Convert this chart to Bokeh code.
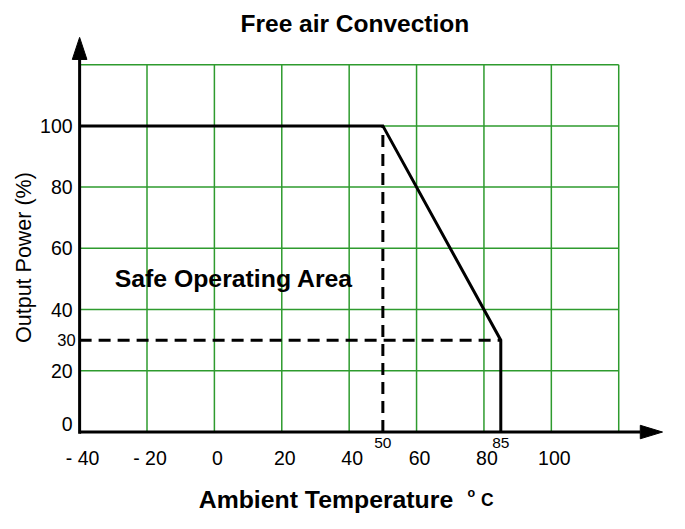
import math
from bokeh.plotting import figure
from bokeh.models import Range1d, ColumnDataSource
from bokeh.core.properties import value
from bokeh.embed import file_html
from bokeh.resources import INLINE

# ---------------- data ----------------
curve_temp = [-40, 50, 85, 85]
curve_power = [100, 100, 30, 0]
derate_start_temp = 50
derate_end_temp = 85
derate_end_power = 30

x_ticks = [-40, -20, 0, 20, 40, 60, 80, 100]
x_tick_labels = ["- 40", "- 20", "0", "20", "40", "60", "80", "100"]
y_ticks = [0, 20, 40, 60, 80, 100]
y_tick_labels = ["0", "20", "40", "60", "80", "100"]
grid_x = [-20, 0, 20, 40, 60, 80, 100, 120]
grid_y = [20, 40, 60, 80, 100, 120]
x_min, x_max = -40, 120
y_min, y_max = 0, 120

# axis extents (arrow tips / bases)
x_arrow_base, x_arrow_tip = 126.4, 133.0
y_arrow_base, y_arrow_tip = 121.7, 128.9

FONT = value("Liberation Sans")
GREEN = "#2e9b2e"

p = figure(width=669, height=513, output_backend="svg", toolbar_location=None,
           x_range=Range1d(-63.48, 135.07), y_range=Range1d(-26.61, 140.96),
           x_axis_location=None, y_axis_location=None, min_border=0)
p.grid.visible = False
p.outline_line_color = None
p.background_fill_color = "white"
p.border_fill_color = "white"

# grid
p.segment(x0=grid_x, y0=[y_min] * len(grid_x), x1=grid_x, y1=[y_max] * len(grid_x),
          line_color=GREEN, line_width=1.5)
p.segment(x0=[x_min] * len(grid_y), y0=grid_y, x1=[x_max] * len(grid_y), y1=grid_y,
          line_color=GREEN, line_width=1.5)

# dashed guides
p.line([derate_start_temp, derate_start_temp], [0, curve_power[0]], line_color="black",
       line_width=3, line_dash="12 7")
p.line([x_min, derate_end_temp], [derate_end_power, derate_end_power], line_color="black",
       line_width=3, line_dash="12 7")

# curve
p.line(curve_temp, curve_power, line_color="black", line_width=3, line_join="miter")

# axes
p.line([x_min, x_min], [y_min - 0.6, y_arrow_base], line_color="black", line_width=3)
p.line([x_min, x_arrow_base], [y_min, y_min], line_color="black", line_width=3)
hw_x = 2.17  # half width of y arrow head in x units
hw_y = 2.2   # half height of x arrow head in y units
p.patch([x_min - hw_x, x_min + hw_x, x_min], [y_arrow_base, y_arrow_base, y_arrow_tip],
        color="black")
p.patch([x_arrow_base, x_arrow_base, x_arrow_tip], [-hw_y, hw_y, 0], color="black")

# x tick labels
p.text(x=x_ticks, y=[0] * len(x_ticks), text=x_tick_labels, x_offset=3, y_offset=26,
       text_align="center", text_baseline="middle", text_font=FONT,
       text_font_size="19.5px", text_color="black")
# y tick labels
y_offs = [-8 if t == 0 else 0 for t in y_ticks]
src = ColumnDataSource(dict(x=[x_min] * len(y_ticks), y=y_ticks, t=y_tick_labels, yo=y_offs))
p.text(x="x", y="y", text="t", y_offset="yo", x_offset=-7, source=src,
       text_align="right", text_baseline="middle", text_font=FONT,
       text_font_size="19.5px", text_color="black")
p.text(x=[x_min], y=[derate_end_power], text=[str(derate_end_power)], x_offset=-4,
       text_align="right", text_baseline="middle", text_font=FONT,
       text_font_size="16.5px", text_color="black")
# special labels 50 / 85
p.text(x=[derate_start_temp, derate_end_temp], y=[0, 0],
       text=[str(derate_start_temp), str(derate_end_temp)], y_offset=11,
       text_align="center", text_baseline="middle", text_font=FONT,
       text_font_size="15.5px", text_color="black")

# titles
p.text(x=[41.7], y=[133.5], text=["Free air Convection"], text_align="center",
       text_baseline="middle", text_font=FONT, text_font_size="24.5px",
       text_font_style="bold", text_color="black")
p.text(x=[-56.6], y=[57.0], text=["Output Power (%)"], angle=math.pi / 2,
       text_align="center", text_baseline="middle", text_font=FONT,
       text_font_size="21.5px", text_color="black")
p.text(x=[-29.6], y=[50], text=["Safe Operating Area"], text_align="left",
       text_baseline="middle", text_font=FONT, text_font_size="24.8px",
       text_font_style="bold", text_color="black")
p.text(x=[-4.64], y=[-21.9], text=["Ambient Temperature"], text_align="left",
       text_baseline="middle", text_font=FONT, text_font_size="24.8px",
       text_font_style="bold", text_color="black")
p.text(x=[75.1], y=[-19.96], text=["o"], text_align="left",
       text_baseline="middle", text_font=FONT, text_font_size="12.5px",
       text_font_style="bold", text_color="black")
p.text(x=[79.1], y=[-22.2], text=["C"], text_align="left",
       text_baseline="middle", text_font=FONT, text_font_size="17.5px",
       text_font_style="bold", text_color="black")

open("out.html", "w").write(file_html(p, INLINE))
